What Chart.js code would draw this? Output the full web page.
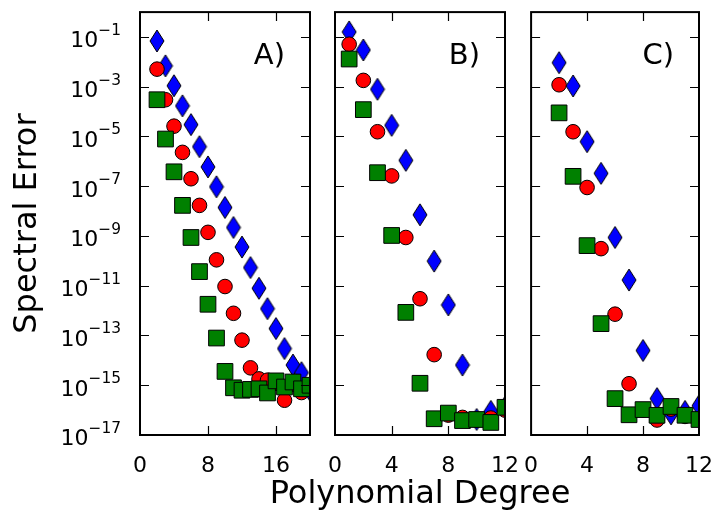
<!DOCTYPE html>
<html>
<head>
<meta charset="utf-8">
<script src="https://cdn.jsdelivr.net/npm/chart.js@4.4.1/dist/chart.umd.min.js"></script>
<style>
  html, body { margin: 0; padding: 0; background: #fff; }
  #fig { position: relative; width: 717px; height: 517px; overflow: hidden; background: #fff; }
  #fig canvas { position: absolute; top: 0; }
</style>
</head>
<body>
<div id="fig">
  <canvas id="panelA" width="325" height="517" style="left:0px"></canvas>
  <canvas id="panelB" width="360" height="517" style="left:240px"></canvas>
  <canvas id="panelC" width="198" height="517" style="left:519px"></canvas>
</div>
<script>
// ---- data: spectral error vs polynomial degree for three test problems ----
const degreesA = [2, 3, 4, 5, 6, 7, 8, 9, 10, 11, 12, 13, 14, 15, 16, 17, 18, 19, 20];
const blueA  = [6.9e-2, 6.9e-3, 1.1e-3, 1.7e-4, 3.0e-5, 3.9e-6, 6.0e-7, 9.5e-8, 1.4e-8, 2.2e-9,
                3.6e-10, 5.4e-11, 7.9e-12, 1.2e-12, 1.9e-13, 3.0e-14, 6.5e-15, 3.2e-15, 6.3e-16];
const redA   = [5.1e-3, 3.0e-4, 2.6e-5, 2.3e-6, 2.0e-7, 1.7e-8, 1.4e-9, 1.1e-10, 9.3e-12, 7.8e-13,
                6.5e-14, 5.0e-15, 1.8e-15, 1.6e-15, 1.2e-15, 2.5e-16, 1.1e-15, 5.1e-16, 1.0e-15];
const greenA = [3.0e-4, 7.9e-6, 3.8e-7, 1.7e-8, 8.7e-10, 3.7e-11, 1.8e-12, 7.9e-14, 3.6e-15, 7.9e-16,
                6.3e-16, 6.8e-16, 7.2e-16, 4.9e-16, 1.5e-15, 8.5e-16, 1.35e-15, 7.2e-16, 1.0e-15];

const degreesB = [1, 2, 3, 4, 5, 6, 7, 8, 9, 10, 11, 12];
const blueB  = [1.6e-1, 3.0e-2, 7.9e-4, 2.8e-5, 1.1e-6, 7.1e-9, 9.8e-11, 1.7e-12, 6.5e-15, 4.2e-17, 8.9e-17, 1.3e-16];
const redB   = [5.1e-2, 1.8e-3, 1.55e-5, 2.6e-7, 8.7e-10, 3.0e-12, 1.7e-14, 6.3e-17, 5.1e-17, 4.0e-17, 4.8e-17, 1.0e-16];
const greenB = [1.3e-2, 1.2e-4, 3.5e-7, 1.05e-9, 8.5e-13, 1.2e-15, 4.5e-17, 7.6e-17, 3.8e-17, 4.2e-17, 3.2e-17, 1.3e-16];

const degreesC = [2, 3, 4, 5, 6, 7, 8, 9, 10, 11, 12];
const blueC  = [9.3e-3, 1.07e-3, 6.2e-6, 3.3e-7, 8.7e-10, 1.7e-11, 2.5e-14, 2.9e-16, 7.1e-17, 8.9e-17, 1.5e-16];
const redC   = [1.2e-3, 1.55e-5, 8.9e-8, 3.1e-10, 7.2e-13, 1.15e-15, 1.0e-16, 4.0e-17, 1.1e-16, 5.6e-17, 4.2e-17];
const greenC = [8.9e-5, 2.5e-7, 4.1e-10, 3.0e-13, 2.9e-16, 6.5e-17, 1.05e-16, 6.2e-17, 1.4e-16, 6.2e-17, 4.2e-17];

// ---- axes ----
const yTickValues = [1e-1, 1e-3, 1e-5, 1e-7, 1e-9, 1e-11, 1e-13, 1e-15, 1e-17];
const yTickBase = '10';
const yTickExponents = ['\u22121', '\u22123', '\u22125', '\u22127', '\u22129', '\u221211', '\u221213', '\u221215', '\u221217'];
const xTicksA = [0, 8, 16];
const xTicksBC = [0, 4, 8, 12];
const panelLabels = ['A)', 'B)', 'C)'];
const xTitle = 'Polynomial Degree';
const yTitle = 'Spectral Error';

const FONT = '"DejaVu Sans", sans-serif';
Chart.defaults.font.family = FONT;
Chart.defaults.color = '#000';

// thin diamond marker
function thinDiamond(fill) {
  const c = document.createElement('canvas');
  c.width = 16; c.height = 24;
  const g = c.getContext('2d');
  g.beginPath();
  g.moveTo(8, 1); g.lineTo(15, 12); g.lineTo(8, 23); g.lineTo(1, 12);
  g.closePath();
  g.fillStyle = fill; g.fill();
  g.lineWidth = 1; g.strokeStyle = '#000'; g.stroke();
  return c;
}
const diamondMarker = thinDiamond('#0000ff');

// frame, inward tick marks, power-of-ten labels, panel letter and shared x title
const framePlugin = {
  id: 'frame',
  afterDraw(chart, args, opts) {
    const { ctx, chartArea: a, scales } = chart;
    const L = 9;
    ctx.save();
    ctx.strokeStyle = '#000';
    ctx.lineWidth = 1.2;
    ctx.beginPath();
    opts.yTicks.forEach(v => {
      const y = Math.round(scales.y.getPixelForValue(v)) + 0.5;
      if (y <= a.top + 2 || y >= a.bottom - 2) return;
      ctx.moveTo(a.left, y); ctx.lineTo(a.left + L, y);
      ctx.moveTo(a.right, y); ctx.lineTo(a.right - L, y);
    });
    opts.xTicks.forEach(v => {
      const x = Math.round(scales.x.getPixelForValue(v)) + 0.5;
      if (x <= a.left + 2 || x >= a.right - 2) return;
      ctx.moveTo(x, a.top); ctx.lineTo(x, a.top + L);
      ctx.moveTo(x, a.bottom); ctx.lineTo(x, a.bottom - L);
    });
    ctx.stroke();
    ctx.lineWidth = 2;
    ctx.strokeRect(a.left, a.top, a.right - a.left, a.bottom - a.top);

    ctx.fillStyle = '#000';
    ctx.textBaseline = 'alphabetic';
    ctx.textAlign = 'right';
    if (opts.yLabels) {
      const xr = a.left - 19;
      opts.yTicks.forEach((v, i) => {
        const y = scales.y.getPixelForValue(v);
        ctx.font = '15.4px ' + FONT;
        const w = ctx.measureText(yTickExponents[i]).width;
        ctx.fillText(yTickExponents[i], xr, y - 2.2);
        ctx.font = '22px ' + FONT;
        ctx.fillText(yTickBase, xr - w, y + 10.3);
      });
    }
    ctx.font = '29px ' + FONT;
    ctx.fillText(opts.label, a.right - 25, a.top + 52);

    if (opts.xTitle) {
      ctx.font = '32px ' + FONT;
      ctx.textAlign = 'center';
      ctx.textBaseline = 'middle';
      ctx.fillText(opts.xTitle, (a.left + a.right) / 2, 495);
    }
    ctx.restore();
  }
};

function points(xs, ys) {
  return xs.map((x, i) => ({ x: x, y: ys[i] }));
}

function noEdgePadding(s) {
  s.paddingTop = 0; s.paddingBottom = 0; s.paddingLeft = 0; s.paddingRight = 0;
}

function makePanel(id, cfg) {
  const datasets = [
    { label: 'green', data: points(cfg.degrees, cfg.green), pointStyle: 'rect', pointRadius: 11.1,
      backgroundColor: '#008000', borderColor: '#000', borderWidth: 1, clip: 0 },
    { label: 'red', data: points(cfg.degrees, cfg.red), pointStyle: 'circle', pointRadius: 7.3,
      backgroundColor: '#ff0000', borderColor: '#000', borderWidth: 1, clip: 0 },
    { label: 'blue', data: points(cfg.degrees, cfg.blue), pointStyle: diamondMarker, pointRadius: 10,
      backgroundColor: '#0000ff', borderColor: '#000', borderWidth: 1, clip: 0 }
  ];
  return new Chart(document.getElementById(id), {
    type: 'scatter',
    data: { datasets },
    options: {
      responsive: false,
      animation: false,
      devicePixelRatio: 1,
      events: [],
      layout: { padding: cfg.padding },
      plugins: {
        legend: { display: false },
        tooltip: { enabled: false },
        frame: { xTicks: cfg.xTicks, yTicks: yTickValues, label: cfg.label, yLabels: cfg.showY, xTitle: cfg.xTitle }
      },
      scales: {
        x: {
          type: 'linear',
          min: 0, max: cfg.xMax,
          grid: { display: false, drawTicks: false },
          border: { display: false },
          afterBuildTicks: s => { s.ticks = cfg.xTicks.map(v => ({ value: v })); },
          afterFit: s => { s.height = 82; noEdgePadding(s); },
          ticks: {
            autoSkip: false, maxRotation: 0, padding: 18,
            font: { size: 22 },
            callback: v => String(v)
          }
        },
        y: {
          type: 'logarithmic',
          display: cfg.showY,
          min: 1e-17, max: 1,
          grid: { display: false, drawTicks: false },
          border: { display: false },
          afterBuildTicks: s => { s.ticks = yTickValues.map(v => ({ value: v })); },
          afterFit: s => { s.width = cfg.showY ? 140 : 0; noEdgePadding(s); },
          ticks: { display: false },
          title: {
            display: cfg.showY, text: yTitle,
            font: { size: 32, weight: 'normal', family: FONT }, padding: { top: 8, bottom: 0 }
          }
        }
      }
    },
    plugins: [framePlugin]
  });
}

makePanel('panelA', {
  degrees: degreesA, blue: blueA, red: redA, green: greenA,
  xMax: 20, xTicks: xTicksA, showY: true, label: panelLabels[0],
  padding: { left: 0, right: 15, top: 5, bottom: 0 }
});
makePanel('panelB', {
  degrees: degreesB, blue: blueB, red: redB, green: greenB,
  xMax: 12, xTicks: xTicksBC, showY: false, label: panelLabels[1], xTitle: xTitle,
  padding: { left: 95, right: 95, top: 5, bottom: 0 }
});
makePanel('panelC', {
  degrees: degreesC, blue: blueC, red: redC, green: greenC,
  xMax: 12, xTicks: xTicksBC, showY: false, label: panelLabels[2],
  padding: { left: 10, right: 18, top: 5, bottom: 0 }
});
</script>
</body>
</html>
